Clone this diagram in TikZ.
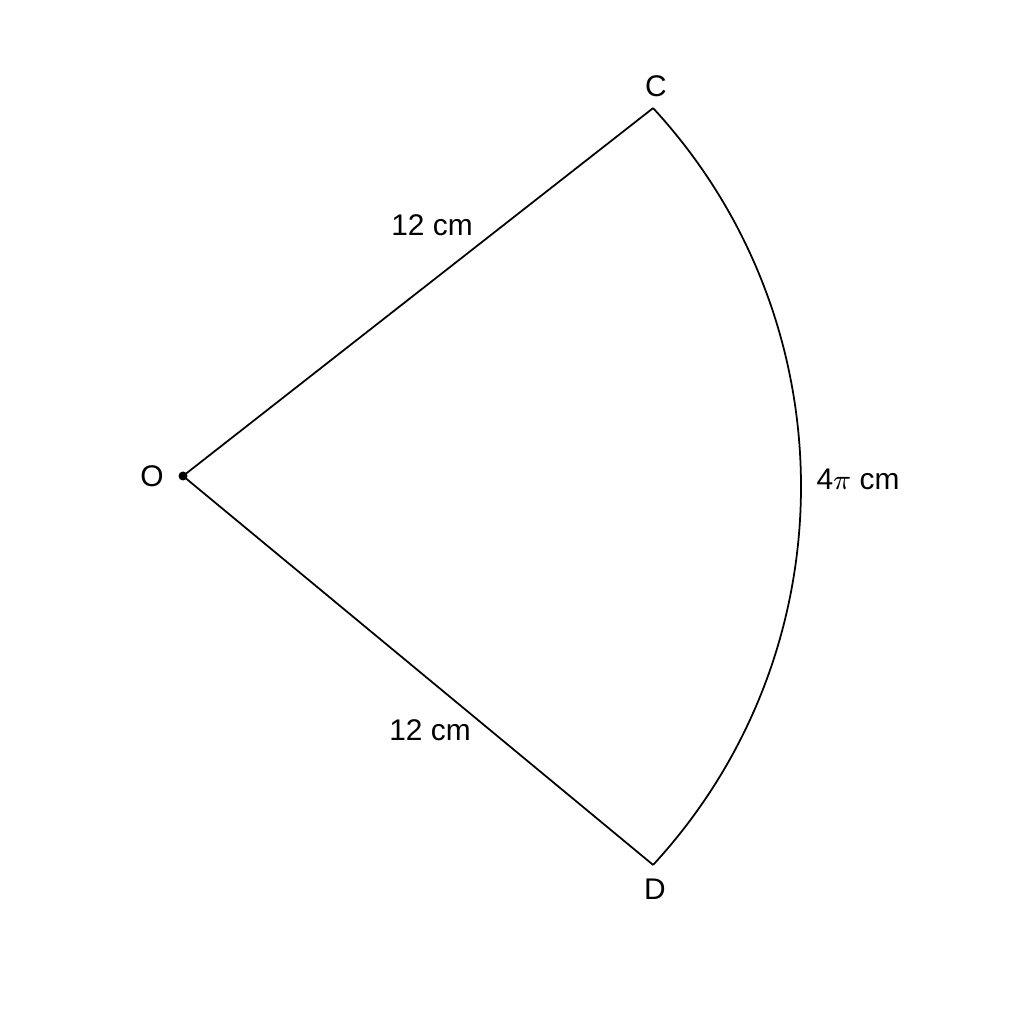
\documentclass[tikz,border=0pt]{standalone}
\usepackage{fontspec}
\setmainfont{Liberation Sans}

\begin{document}
\begin{tikzpicture}[scale=1,font=\fontsize{8.5}{10}\selectfont]
\useasboundingbox (0,0) rectangle (10.24,10.24);
%%% sector OCD
\coordinate (O) at (1.83,5.48);
\coordinate (C) at (6.531,9.159);
\coordinate (D) at (6.531,1.591);
\fill (O) circle (0.045);

\node[inner sep=1pt] (lO) at (1.52,5.48) {O};
\node[inner sep=1pt] (lC) at (6.56,9.38) {C};
\node[inner sep=1pt] (lD) at (6.55,1.35) {D};

\draw[line width=0.5pt,line join=round] (C)--(O)--(D);
\draw[line width=0.5pt] (D) arc[start angle=-42.7, end angle=42.7, radius=5.58];

\node[inner sep=1pt] (rOC) at (4.32,7.99) {12 cm};
\node[inner sep=1pt] (rOD) at (4.30,2.94) {12 cm};
\node[inner sep=1pt] (aCD) at (8.58,5.45) {4$\pi$ cm};

%\draw[dashed](O)--(8.0,5.375);

\end{tikzpicture}
\end{document}
